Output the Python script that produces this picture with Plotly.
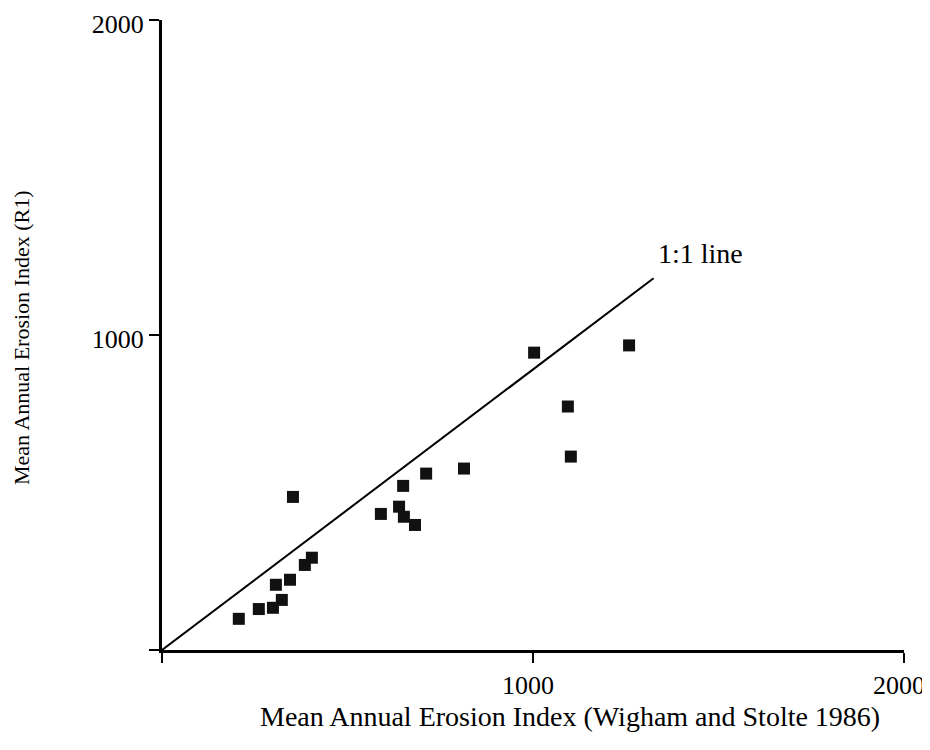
import plotly.graph_objects as go

# Data
wigham_stolte = [207, 261, 307, 323, 299, 345, 385, 404, 353, 590, 639, 650, 652, 682, 712, 814, 1003, 1094, 1102, 1259]
r1_index = [99, 130, 207, 159, 134, 223, 270, 293, 486, 432, 455, 521, 423, 397, 560, 576, 944, 773, 614, 967]

line_x = [0, 1325]
line_y = [0, 1180]

tick_vals = [0, 1000, 2000]
tick_text = ["", "1000", "2000"]

FONT = "Liberation Serif"
OFF = 8  # page body margin
W, H = 930, 750
# desired plot area on screen: x 162..904, y 20..650
L, T = 162 - OFF, 20 - OFF
R = W - (904 - OFF)
B = H - (650 - OFF)
PW, PH = W - L - R, H - T - B


def px_x(px):
    return (px - OFF - L) / PW


def px_y(py):
    return (H - B - (py - OFF)) / PH


fig = go.Figure()
fig.add_trace(go.Scatter(x=line_x, y=line_y, mode="lines",
                         line=dict(color="black", width=2), showlegend=False))
fig.add_trace(go.Scatter(x=wigham_stolte, y=r1_index, mode="markers",
                         marker=dict(symbol="square", size=12, color="#111111",
                                     line=dict(width=0)),
                         showlegend=False))

fig.add_annotation(x=px_x(656), y=px_y(253), xref="paper", yref="paper", text="1:1 line",
                   showarrow=False, xanchor="left", yanchor="middle",
                   font=dict(family=FONT, size=28, color="black"))

fig.add_annotation(x=px_x(570), y=px_y(716), xref="paper", yref="paper",
                   text="Mean Annual Erosion Index (Wigham and Stolte 1986)",
                   showarrow=False, xanchor="center", yanchor="middle",
                   font=dict(family=FONT, size=28, color="black"))

fig.add_annotation(x=px_x(21), y=px_y(338), xref="paper", yref="paper",
                   text="Mean Annual Erosion Index (R1)", textangle=-90,
                   showarrow=False, xanchor="center", yanchor="middle",
                   font=dict(family=FONT, size=22, color="black"))

axis_common = dict(range=[0, 2000], tickvals=tick_vals, ticktext=tick_text,
                   showline=True, linecolor="black", linewidth=3,
                   ticks="outside", ticklen=10, tickwidth=2, tickcolor="black",
                   showgrid=False, zeroline=False, automargin=False,
                   ticklabeloverflow="allow",
                   tickfont=dict(family=FONT, size=26, color="black"))

fig.update_layout(
    width=W, height=H,
    margin=dict(l=L, r=R, t=T, b=B),
    plot_bgcolor="white", paper_bgcolor="white",
    xaxis=dict(**axis_common, ticklabelshift=-5),
    yaxis=dict(**axis_common, ticklabelshift=4),
)

fig.write_html("out.html")
